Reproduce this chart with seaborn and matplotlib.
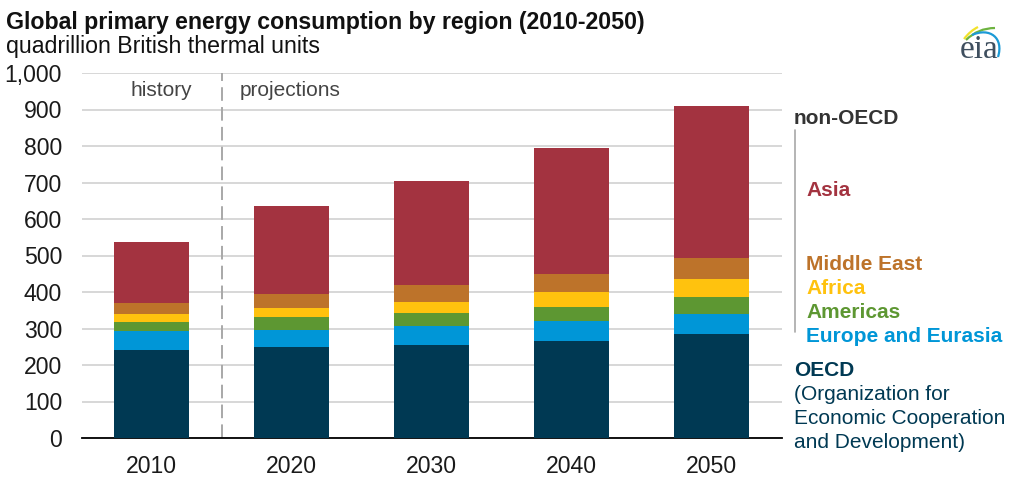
import numpy as np
import pandas as pd
import matplotlib
matplotlib.use('Agg')
import matplotlib.pyplot as plt
from matplotlib.patches import PathPatch
from matplotlib.path import Path
import seaborn as sns

years = ['2010', '2020', '2030', '2040', '2050']
regions = ['OECD', 'Europe and Eurasia', 'Americas', 'Africa', 'Middle East', 'Asia']
oecd = [242, 248, 256, 267, 285]
europe = [50, 49, 50, 53, 56]
americas = [27, 34, 36, 39, 44]
africa = [21, 25, 31, 41, 51]
middle_east = [29, 39, 47, 50, 58]
asia = [168, 240, 285, 345, 416]
colors = ['#003953', '#0096d7', '#5d9732', '#ffc20e', '#bd732a', '#a33340']

sns.set_theme(style='white')
plt.rcParams['font.family'] = ['Liberation Sans', 'DejaVu Sans']

df = pd.DataFrame({'year': years, 'OECD': oecd, 'Europe and Eurasia': europe, 'Americas': americas,
                   'Africa': africa, 'Middle East': middle_east, 'Asia': asia})

fig = plt.figure(figsize=(10.24, 4.82), dpi=100)
ax = fig.add_axes([81.5 / 1024, 1 - 438 / 482, 700 / 1024, 365 / 482])

# stack the regions from the bottom up
bottom = np.zeros(len(years))
for region, color in zip(regions, colors):
    sns.barplot(data=df, x='year', y=region, color=color, bottom=bottom, width=0.536,
                saturation=1, linewidth=0, ax=ax, zorder=3)
    bottom = bottom + df[region].values

ax.set_xlim(-0.5, 4.5)
ax.set_ylim(0, 1000)
ax.set_xlabel('')
ax.set_ylabel('')
ax.set_yticks(range(0, 1001, 100))
ax.set_yticklabels([f'{v:,}' for v in range(0, 1001, 100)])
ax.tick_params(axis='both', length=0, labelsize=16.6, labelcolor='#1a1a1a')
ax.tick_params(axis='x', pad=12)
ax.tick_params(axis='y', pad=14)
ax.yaxis.grid(True, color='#d4d4d4', linewidth=1.3, zorder=0)
ax.set_axisbelow(True)
sns.despine(ax=ax, left=True)
ax.spines['bottom'].set_color('black')
ax.spines['bottom'].set_linewidth(1.3)

ax.axvline(0.5, color='#a8a8a8', linewidth=1.4, dashes=(7, 3.2), zorder=2)
ax.text(0.07, 953, 'history', ha='center', va='center', fontsize=15, color='#444444')
ax.text(0.63, 953, 'projections', ha='left', va='center', fontsize=15, color='#444444')


def label(x, y, s, color, weight='bold', size=15):
    fig.text(x / 1024, 1 - y / 482, s, color=color, fontweight=weight, fontsize=size, ha='left', va='center')


fig.text(6 / 1024, 1 - 22 / 482, 'Global primary energy consumption by region (2010-2050)',
         fontsize=16.7, fontweight='bold', color='#111111', va='center')
fig.text(6 / 1024, 1 - 47 / 482, 'quadrillion British thermal units', fontsize=16.7, color='#111111', va='center')

label(794, 119, 'non-OECD', '#333333')
label(806, 191, 'Asia', colors[5])
label(806, 264, 'Middle East', colors[4])
label(806, 288, 'Africa', colors[3])
label(806, 312, 'Americas', colors[2])
label(806, 336, 'Europe and Eurasia', colors[1])
label(794, 370, 'OECD', colors[0])
label(794, 395, '(Organization for', colors[0], 'normal')
label(794, 419, 'Economic Cooperation', colors[0], 'normal')
label(794, 443, 'and Development)', colors[0], 'normal')
fig.add_artist(plt.Line2D([795 / 1024, 795 / 1024], [1 - 130 / 482, 1 - 332 / 482], color='#a8a8a8', linewidth=1.2))

# eia logo
fig.text(979 / 1024, 1 - 50 / 482, 'eia', family='Liberation Serif', fontsize=24, color='#3f4f5f', ha='center', va='center')
for verts, c in [([(964, 39), (970, 31), (978, 27)], '#f2e229'),
                 ([(966, 40), (978, 28), (995, 28)], '#6db33f'),
                 ([(972, 35), (990, 27), (1004, 38), (998, 57)], '#1b9ad6')]:
    pts = [(x / 1024, 1 - y / 482) for x, y in verts]
    codes = [Path.MOVETO, Path.CURVE3, Path.CURVE3] if len(pts) == 3 else [Path.MOVETO, Path.CURVE4, Path.CURVE4, Path.CURVE4]
    fig.add_artist(PathPatch(Path(pts, codes), fill=False, edgecolor=c, linewidth=1.6, transform=fig.transFigure))

fig.savefig('out.png', dpi=100)
